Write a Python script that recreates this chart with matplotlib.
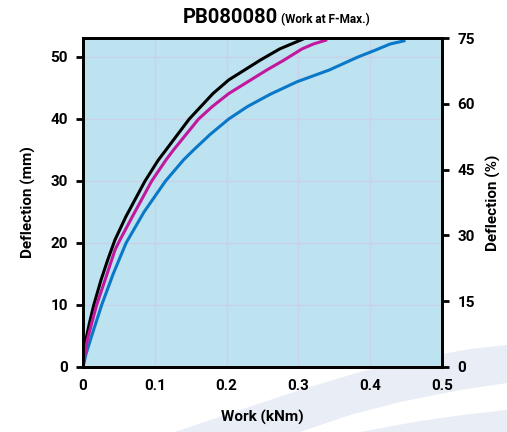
import matplotlib.pyplot as plt
import matplotlib.patches as mpatches
import numpy as np

# Work (kNm) vs deflection (mm)
black_defl = [0, 4.35, 7.0, 10, 14, 17.3, 20.5, 24.2, 30, 33.4, 35, 40, 44.1, 46.3, 49.5, 51.3, 53.06]
black_work = [0, 0.004, 0.0088, 0.015, 0.025, 0.0345, 0.0445, 0.0595, 0.0864, 0.105, 0.1155,
              0.148, 0.181, 0.203, 0.247, 0.274, 0.31]

magenta_defl = [0, 4.35, 7.0, 10, 14, 18.9, 20.5, 24.2, 30, 33.4, 35, 40, 42, 44.1, 47.9, 49.5,
                51.3, 52.1, 52.7]
magenta_work = [0, 0.006, 0.012, 0.019, 0.0306, 0.0446, 0.0515, 0.0685, 0.0957, 0.1156, 0.126,
                0.161, 0.180, 0.203, 0.256, 0.28, 0.305, 0.321, 0.338]

blue_defl = [0, 2, 5, 10, 15, 20, 25, 30, 33.4, 35, 37.5, 40, 42, 44, 46, 47.9, 50, 51.0,
             52.1, 52.6]
blue_work = [0, 0.004, 0.012, 0.026, 0.042, 0.060, 0.085, 0.115, 0.140, 0.154, 0.177, 0.203,
             0.229, 0.261, 0.298, 0.343, 0.383, 0.405, 0.428, 0.447]

x_ticks = [0, 0.1, 0.2, 0.3, 0.4, 0.5]
x_labels = ['0', '0.1', '0.2', '0.3', '0.4', '0.5']
mm_ticks = [0, 10, 20, 30, 40, 50]
pct_ticks = [0, 15, 30, 45, 60, 75]

plt.rcParams['font.family'] = ['Roboto', 'DejaVu Sans']

W, H = 507, 432
fig = plt.figure(figsize=(W / 100, H / 100), dpi=100)


def px(pts):
    # pixel coords -> figure fraction, for the background decoration only
    return [(x / W, 1 - y / H) for x, y in pts]


# faint background swooshes, bottom right (behind the axes)
band_a = px([(175, 432), (240, 410), (300, 390), (360, 372), (420, 358), (470, 349), (507, 345),
             (507, 383), (460, 390), (400, 402), (350, 415), (300, 432)])
band_b = px([(360, 432), (420, 421), (470, 414), (507, 410), (507, 432)])
for poly in (band_a, band_b):
    fig.patches.append(mpatches.Polygon(poly, closed=True, transform=fig.transFigure,
                                        facecolor='#e9edf6', edgecolor='none', zorder=-10))

ax = fig.add_axes([83 / W, 1 - 367 / H, (442 - 83) / W, (367 - 38) / H])
ax.set_facecolor('#bde2f0')

ax.plot(black_work, black_defl, color='black', lw=2.2, zorder=3, solid_joinstyle='round')
ax.plot(magenta_work, magenta_defl, color='#c2189e', lw=2.2, zorder=3, solid_joinstyle='round')
ax.plot(blue_work, blue_defl, color='#0a78c8', lw=2.2, zorder=2, solid_joinstyle='round')

ax.set_xlim(0, 0.5)
ax.set_ylim(0, 53.06)
ax.set_xticks(x_ticks)
ax.set_xticklabels(x_labels)
ax.set_yticks(mm_ticks)
ax.grid(color='#c8d2ea', lw=1.0)
ax.set_axisbelow(True)

for s in ax.spines.values():
    s.set_linewidth(2)
ax.tick_params(axis='x', length=0, pad=9, labelsize=11)
ax.tick_params(axis='y', length=5, width=2, pad=6, labelsize=11)
for lab in ax.get_xticklabels() + ax.get_yticklabels():
    lab.set_fontweight('bold')

ax2 = ax.twinx()
ax2.set_ylim(0, 75)
ax2.set_yticks(pct_ticks)
ax2.tick_params(axis='y', length=5, width=2, pad=6, labelsize=11)
for lab in ax2.get_yticklabels():
    lab.set_fontweight('bold')
for s in ax2.spines.values():
    s.set_linewidth(2)

ax.set_xlabel('Work (kNm)', fontsize=11, fontweight='bold', labelpad=12)
ax.set_ylabel('Deflection (mm)', fontsize=11, fontweight='bold', labelpad=10)
ax2.set_ylabel('Deflection (%)', fontsize=11, fontweight='bold', labelpad=8)

fig.text(183 / W, 0.947, 'PB080080', fontsize=14.5, fontweight='bold', ha='left', va='baseline')
fig.text(281 / W, 0.947, '(Work at F-Max.)', fontsize=8.5, fontweight='bold', ha='left', va='baseline')

fig.savefig('out.png', dpi=100)
